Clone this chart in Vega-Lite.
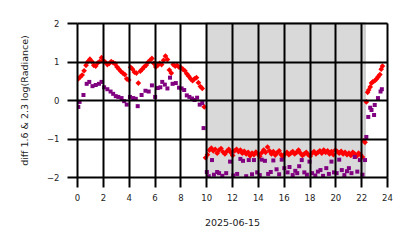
{
  "$schema": "https://vega.github.io/schema/vega-lite/v6.json",
  "width": 310,
  "height": 154,
  "autosize": {"type": "none"},
  "padding": {"left": 77, "top": 23, "right": 27, "bottom": 71},
  "background": "white",
  "config": {
    "view": {"stroke": "#bbbbbb", "strokeWidth": 1},
    "font": "DejaVu Sans",
    "axis": {
      "domain": false,
      "grid": true,
      "gridColor": "#000000",
      "gridWidth": 2,
      "gridOpacity": 1,
      "ticks": true,
      "tickColor": "#000000",
      "tickWidth": 2,
      "tickSize": 10,
      "tickOpacity": 1,
      "labelOverlap": false,
      "labelFlush": false,
      "labelFont": "DejaVu Sans",
      "labelFontSize": 8.5,
      "labelColor": "#222222",
      "titleFont": "DejaVu Sans",
      "titleFontWeight": "normal",
      "titleColor": "#222222",
      "zindex": 1
    }
  },
  "datasets": {
    "night": [{"start": 10.05, "end": 22.3}],
    "pts": [
      {"h": 0.10, "v": 0.55, "s": "red"},
      {"h": 0.25, "v": 0.60, "s": "red"},
      {"h": 0.40, "v": 0.65, "s": "red"},
      {"h": 0.55, "v": 0.76, "s": "red"},
      {"h": 0.70, "v": 0.90, "s": "red"},
      {"h": 0.85, "v": 1.00, "s": "red"},
      {"h": 1.00, "v": 1.06, "s": "red"},
      {"h": 1.15, "v": 1.00, "s": "red"},
      {"h": 1.30, "v": 0.90, "s": "red"},
      {"h": 1.45, "v": 0.88, "s": "red"},
      {"h": 1.60, "v": 0.96, "s": "red"},
      {"h": 1.75, "v": 1.00, "s": "red"},
      {"h": 1.90, "v": 1.10, "s": "red"},
      {"h": 2.05, "v": 1.02, "s": "red"},
      {"h": 2.20, "v": 0.98, "s": "red"},
      {"h": 2.35, "v": 0.92, "s": "red"},
      {"h": 2.50, "v": 0.95, "s": "red"},
      {"h": 2.65, "v": 1.00, "s": "red"},
      {"h": 2.80, "v": 0.97, "s": "red"},
      {"h": 2.95, "v": 0.94, "s": "red"},
      {"h": 3.10, "v": 0.86, "s": "red"},
      {"h": 3.25, "v": 0.80, "s": "red"},
      {"h": 3.40, "v": 0.74, "s": "red"},
      {"h": 3.55, "v": 0.70, "s": "red"},
      {"h": 3.70, "v": 0.66, "s": "red"},
      {"h": 3.85, "v": 0.55, "s": "red"},
      {"h": 4.00, "v": 0.52, "s": "red"},
      {"h": 4.15, "v": 0.85, "s": "red"},
      {"h": 4.30, "v": 0.80, "s": "red"},
      {"h": 4.45, "v": 0.72, "s": "red"},
      {"h": 4.60, "v": 0.70, "s": "red"},
      {"h": 4.75, "v": 0.44, "s": "red"},
      {"h": 4.90, "v": 0.75, "s": "red"},
      {"h": 5.05, "v": 0.80, "s": "red"},
      {"h": 5.20, "v": 0.86, "s": "red"},
      {"h": 5.35, "v": 0.90, "s": "red"},
      {"h": 5.50, "v": 0.98, "s": "red"},
      {"h": 5.65, "v": 1.03, "s": "red"},
      {"h": 5.80, "v": 1.08, "s": "red"},
      {"h": 5.95, "v": 0.95, "s": "red"},
      {"h": 6.10, "v": 0.86, "s": "red"},
      {"h": 6.25, "v": 0.90, "s": "red"},
      {"h": 6.40, "v": 0.95, "s": "red"},
      {"h": 6.55, "v": 0.92, "s": "red"},
      {"h": 6.70, "v": 1.03, "s": "red"},
      {"h": 6.85, "v": 1.14, "s": "red"},
      {"h": 7.00, "v": 1.05, "s": "red"},
      {"h": 7.15, "v": 0.78, "s": "red"},
      {"h": 7.30, "v": 0.70, "s": "red"},
      {"h": 7.45, "v": 0.92, "s": "red"},
      {"h": 7.60, "v": 0.88, "s": "red"},
      {"h": 7.75, "v": 0.90, "s": "red"},
      {"h": 7.90, "v": 0.85, "s": "red"},
      {"h": 8.05, "v": 0.84, "s": "red"},
      {"h": 8.20, "v": 0.80, "s": "red"},
      {"h": 8.35, "v": 0.76, "s": "red"},
      {"h": 8.50, "v": 0.68, "s": "red"},
      {"h": 8.65, "v": 0.62, "s": "red"},
      {"h": 8.80, "v": 0.55, "s": "red"},
      {"h": 8.95, "v": 0.50, "s": "red"},
      {"h": 9.10, "v": 0.55, "s": "red"},
      {"h": 9.25, "v": 0.58, "s": "red"},
      {"h": 9.40, "v": 0.45, "s": "red"},
      {"h": 9.55, "v": 0.35, "s": "red"},
      {"h": 9.70, "v": 0.30, "s": "red"},
      {"h": 9.85, "v": -0.18, "s": "red"},
      {"h": 9.95, "v": -1.50, "s": "red"},
      {"h": 10.10, "v": -1.42, "s": "red"},
      {"h": 10.25, "v": -1.30, "s": "red"},
      {"h": 10.40, "v": -1.25, "s": "red"},
      {"h": 10.55, "v": -1.32, "s": "red"},
      {"h": 10.70, "v": -1.28, "s": "red"},
      {"h": 10.85, "v": -1.38, "s": "red"},
      {"h": 11.00, "v": -1.30, "s": "red"},
      {"h": 11.15, "v": -1.26, "s": "red"},
      {"h": 11.30, "v": -1.35, "s": "red"},
      {"h": 11.45, "v": -1.40, "s": "red"},
      {"h": 11.60, "v": -1.33, "s": "red"},
      {"h": 11.75, "v": -1.28, "s": "red"},
      {"h": 11.90, "v": -1.36, "s": "red"},
      {"h": 12.05, "v": -1.44, "s": "red"},
      {"h": 12.20, "v": -1.32, "s": "red"},
      {"h": 12.35, "v": -1.28, "s": "red"},
      {"h": 12.50, "v": -1.34, "s": "red"},
      {"h": 12.65, "v": -1.30, "s": "red"},
      {"h": 12.80, "v": -1.38, "s": "red"},
      {"h": 12.95, "v": -1.33, "s": "red"},
      {"h": 13.10, "v": -1.40, "s": "red"},
      {"h": 13.25, "v": -1.36, "s": "red"},
      {"h": 13.40, "v": -1.45, "s": "red"},
      {"h": 13.55, "v": -1.38, "s": "red"},
      {"h": 13.70, "v": -1.42, "s": "red"},
      {"h": 13.85, "v": -1.35, "s": "red"},
      {"h": 14.00, "v": -1.40, "s": "red"},
      {"h": 14.15, "v": -1.46, "s": "red"},
      {"h": 14.30, "v": -1.37, "s": "red"},
      {"h": 14.45, "v": -1.30, "s": "red"},
      {"h": 14.60, "v": -1.36, "s": "red"},
      {"h": 14.75, "v": -1.22, "s": "red"},
      {"h": 14.90, "v": -1.32, "s": "red"},
      {"h": 15.05, "v": -1.40, "s": "red"},
      {"h": 15.20, "v": -1.34, "s": "red"},
      {"h": 15.35, "v": -1.43, "s": "red"},
      {"h": 15.50, "v": -1.37, "s": "red"},
      {"h": 15.65, "v": -1.32, "s": "red"},
      {"h": 15.80, "v": -1.42, "s": "red"},
      {"h": 15.95, "v": -1.48, "s": "red"},
      {"h": 16.10, "v": -1.40, "s": "red"},
      {"h": 16.25, "v": -1.36, "s": "red"},
      {"h": 16.40, "v": -1.42, "s": "red"},
      {"h": 16.55, "v": -1.38, "s": "red"},
      {"h": 16.70, "v": -1.34, "s": "red"},
      {"h": 16.85, "v": -1.40, "s": "red"},
      {"h": 17.00, "v": -1.36, "s": "red"},
      {"h": 17.15, "v": -1.30, "s": "red"},
      {"h": 17.30, "v": -1.38, "s": "red"},
      {"h": 17.45, "v": -1.44, "s": "red"},
      {"h": 17.60, "v": -1.40, "s": "red"},
      {"h": 17.75, "v": -1.36, "s": "red"},
      {"h": 17.90, "v": -1.42, "s": "red"},
      {"h": 18.05, "v": -1.46, "s": "red"},
      {"h": 18.20, "v": -1.38, "s": "red"},
      {"h": 18.35, "v": -1.34, "s": "red"},
      {"h": 18.50, "v": -1.40, "s": "red"},
      {"h": 18.65, "v": -1.36, "s": "red"},
      {"h": 18.80, "v": -1.32, "s": "red"},
      {"h": 18.95, "v": -1.38, "s": "red"},
      {"h": 19.10, "v": -1.30, "s": "red"},
      {"h": 19.25, "v": -1.36, "s": "red"},
      {"h": 19.40, "v": -1.32, "s": "red"},
      {"h": 19.55, "v": -1.40, "s": "red"},
      {"h": 19.70, "v": -1.34, "s": "red"},
      {"h": 19.85, "v": -1.42, "s": "red"},
      {"h": 20.00, "v": -1.30, "s": "red"},
      {"h": 20.15, "v": -1.34, "s": "red"},
      {"h": 20.30, "v": -1.38, "s": "red"},
      {"h": 20.45, "v": -1.33, "s": "red"},
      {"h": 20.60, "v": -1.40, "s": "red"},
      {"h": 20.75, "v": -1.36, "s": "red"},
      {"h": 20.90, "v": -1.42, "s": "red"},
      {"h": 21.05, "v": -1.38, "s": "red"},
      {"h": 21.20, "v": -1.44, "s": "red"},
      {"h": 21.35, "v": -1.36, "s": "red"},
      {"h": 21.50, "v": -1.40, "s": "red"},
      {"h": 21.65, "v": -1.46, "s": "red"},
      {"h": 21.80, "v": -1.38, "s": "red"},
      {"h": 21.95, "v": -1.42, "s": "red"},
      {"h": 22.10, "v": -1.48, "s": "red"},
      {"h": 22.20, "v": -1.06, "s": "red"},
      {"h": 22.30, "v": -1.10, "s": "red"},
      {"h": 22.40, "v": -0.05, "s": "red"},
      {"h": 22.50, "v": 0.20, "s": "red"},
      {"h": 22.58, "v": 0.26, "s": "red"},
      {"h": 22.70, "v": 0.34, "s": "red"},
      {"h": 22.80, "v": 0.44, "s": "red"},
      {"h": 22.90, "v": 0.47, "s": "red"},
      {"h": 23.05, "v": 0.50, "s": "red"},
      {"h": 23.20, "v": 0.55, "s": "red"},
      {"h": 23.30, "v": 0.60, "s": "red"},
      {"h": 23.45, "v": 0.66, "s": "red"},
      {"h": 23.55, "v": 0.80, "s": "red"},
      {"h": 23.65, "v": 0.88, "s": "red"},
      {"h": 0.10, "v": -0.18, "s": "purple"},
      {"h": 0.20, "v": -0.05, "s": "purple"},
      {"h": 0.50, "v": 0.13, "s": "purple"},
      {"h": 0.75, "v": 0.42, "s": "purple"},
      {"h": 0.95, "v": 0.47, "s": "purple"},
      {"h": 1.20, "v": 0.36, "s": "purple"},
      {"h": 1.45, "v": 0.39, "s": "purple"},
      {"h": 1.70, "v": 0.42, "s": "purple"},
      {"h": 1.90, "v": 0.47, "s": "purple"},
      {"h": 2.10, "v": 0.33, "s": "purple"},
      {"h": 2.35, "v": 0.28, "s": "purple"},
      {"h": 2.60, "v": 0.22, "s": "purple"},
      {"h": 2.80, "v": 0.16, "s": "purple"},
      {"h": 3.00, "v": 0.10, "s": "purple"},
      {"h": 3.20, "v": 0.08, "s": "purple"},
      {"h": 3.45, "v": 0.05, "s": "purple"},
      {"h": 3.65, "v": -0.03, "s": "purple"},
      {"h": 3.85, "v": -0.12, "s": "purple"},
      {"h": 4.10, "v": 0.08, "s": "purple"},
      {"h": 4.35, "v": 0.05, "s": "purple"},
      {"h": 4.55, "v": 0.03, "s": "purple"},
      {"h": 4.70, "v": -0.16, "s": "purple"},
      {"h": 5.00, "v": 0.13, "s": "purple"},
      {"h": 5.30, "v": 0.24, "s": "purple"},
      {"h": 5.55, "v": 0.22, "s": "purple"},
      {"h": 5.80, "v": 0.38, "s": "purple"},
      {"h": 6.05, "v": 0.08, "s": "purple"},
      {"h": 6.25, "v": 0.31, "s": "purple"},
      {"h": 6.45, "v": 0.33, "s": "purple"},
      {"h": 6.60, "v": 0.47, "s": "purple"},
      {"h": 6.80, "v": 0.40, "s": "purple"},
      {"h": 7.00, "v": 0.30, "s": "purple"},
      {"h": 7.20, "v": 0.58, "s": "purple"},
      {"h": 7.40, "v": 0.42, "s": "purple"},
      {"h": 7.65, "v": 0.44, "s": "purple"},
      {"h": 7.90, "v": 0.32, "s": "purple"},
      {"h": 8.10, "v": 0.30, "s": "purple"},
      {"h": 8.30, "v": 0.26, "s": "purple"},
      {"h": 8.50, "v": 0.12, "s": "purple"},
      {"h": 8.70, "v": 0.08, "s": "purple"},
      {"h": 8.90, "v": 0.04, "s": "purple"},
      {"h": 9.10, "v": 0.00, "s": "purple"},
      {"h": 9.30, "v": 0.06, "s": "purple"},
      {"h": 9.50, "v": -0.12, "s": "purple"},
      {"h": 9.70, "v": -0.08, "s": "purple"},
      {"h": 9.80, "v": -0.73, "s": "purple"},
      {"h": 10.05, "v": -1.87, "s": "purple"},
      {"h": 10.20, "v": -1.98, "s": "purple"},
      {"h": 10.45, "v": -1.56, "s": "purple"},
      {"h": 10.60, "v": -1.94, "s": "purple"},
      {"h": 10.85, "v": -1.87, "s": "purple"},
      {"h": 11.00, "v": -1.90, "s": "purple"},
      {"h": 11.25, "v": -1.97, "s": "purple"},
      {"h": 11.55, "v": -1.90, "s": "purple"},
      {"h": 11.85, "v": -1.60, "s": "purple"},
      {"h": 12.10, "v": -1.96, "s": "purple"},
      {"h": 12.40, "v": -1.92, "s": "purple"},
      {"h": 12.65, "v": -1.53, "s": "purple"},
      {"h": 12.85, "v": -1.58, "s": "purple"},
      {"h": 13.10, "v": -1.98, "s": "purple"},
      {"h": 13.30, "v": -1.56, "s": "purple"},
      {"h": 13.55, "v": -1.93, "s": "purple"},
      {"h": 13.70, "v": -1.56, "s": "purple"},
      {"h": 13.95, "v": -1.88, "s": "purple"},
      {"h": 14.15, "v": -1.95, "s": "purple"},
      {"h": 14.30, "v": -1.55, "s": "purple"},
      {"h": 14.55, "v": -1.58, "s": "purple"},
      {"h": 14.80, "v": -1.92, "s": "purple"},
      {"h": 15.00, "v": -1.87, "s": "purple"},
      {"h": 15.20, "v": -1.57, "s": "purple"},
      {"h": 15.45, "v": -1.80, "s": "purple"},
      {"h": 15.65, "v": -1.93, "s": "purple"},
      {"h": 15.85, "v": -1.55, "s": "purple"},
      {"h": 16.05, "v": -1.77, "s": "purple"},
      {"h": 16.30, "v": -1.88, "s": "purple"},
      {"h": 16.45, "v": -1.74, "s": "purple"},
      {"h": 16.70, "v": -1.95, "s": "purple"},
      {"h": 16.90, "v": -1.84, "s": "purple"},
      {"h": 17.05, "v": -1.90, "s": "purple"},
      {"h": 17.20, "v": -1.72, "s": "purple"},
      {"h": 17.40, "v": -1.56, "s": "purple"},
      {"h": 17.60, "v": -1.88, "s": "purple"},
      {"h": 17.80, "v": -1.94, "s": "purple"},
      {"h": 18.00, "v": -1.60, "s": "purple"},
      {"h": 18.20, "v": -1.90, "s": "purple"},
      {"h": 18.45, "v": -1.96, "s": "purple"},
      {"h": 18.65, "v": -1.86, "s": "purple"},
      {"h": 18.85, "v": -1.82, "s": "purple"},
      {"h": 19.05, "v": -1.97, "s": "purple"},
      {"h": 19.30, "v": -1.77, "s": "purple"},
      {"h": 19.50, "v": -1.92, "s": "purple"},
      {"h": 19.70, "v": -1.60, "s": "purple"},
      {"h": 19.90, "v": -1.88, "s": "purple"},
      {"h": 20.10, "v": -1.90, "s": "purple"},
      {"h": 20.30, "v": -1.55, "s": "purple"},
      {"h": 20.50, "v": -1.82, "s": "purple"},
      {"h": 20.70, "v": -1.95, "s": "purple"},
      {"h": 20.90, "v": -1.85, "s": "purple"},
      {"h": 21.05, "v": -1.77, "s": "purple"},
      {"h": 21.25, "v": -1.90, "s": "purple"},
      {"h": 21.50, "v": -1.48, "s": "purple"},
      {"h": 21.70, "v": -1.86, "s": "purple"},
      {"h": 21.90, "v": -1.56, "s": "purple"},
      {"h": 22.10, "v": -1.94, "s": "purple"},
      {"h": 22.30, "v": -1.56, "s": "purple"},
      {"h": 22.40, "v": -0.96, "s": "purple"},
      {"h": 22.55, "v": -0.44, "s": "purple"},
      {"h": 22.70, "v": -0.20, "s": "purple"},
      {"h": 22.80, "v": -0.26, "s": "purple"},
      {"h": 23.00, "v": -0.39, "s": "purple"},
      {"h": 23.05, "v": -0.13, "s": "purple"},
      {"h": 23.30, "v": 0.05, "s": "purple"},
      {"h": 23.50, "v": 0.22, "s": "purple"},
      {"h": 23.60, "v": 0.28, "s": "purple"}
    ]
  },
  "layer": [
    {
      "data": {"name": "night"},
      "mark": {"type": "rect", "fill": "#d9d9d9", "stroke": "#c8c8c8", "strokeWidth": 1.5},
      "encoding": {
        "x": {
          "field": "start", "type": "quantitative",
          "scale": {"domain": [0, 24], "nice": false},
          "axis": {
            "values": [0, 2, 4, 6, 8, 10, 12, 14, 16, 18, 20, 22, 24],
            "tickCount": 30,
            "format": "d",
            "zindex": 1,
            "labelPadding": 6,
            "title": "2025-06-15",
            "titleFontSize": 9.5,
            "titleY": 45,
            "titleBaseline": "middle"
          }
        },
        "x2": {"field": "end"},
        "y": {"datum": -2, "type": "quantitative",
          "scale": {"domain": [-2, 2], "nice": false},
          "axis": {
            "values": [-2, -1, 0, 1, 2],
            "tickCount": 10,
            "format": "d",
            "zindex": 1,
            "labelPadding": 8,
            "title": "diff 1.6 & 2.3  log(Radiance)",
            "titleFontSize": 9.5,
            "titleX": -53,
            "titleY": 77,
            "titleAlign": "center",
            "titleBaseline": "middle"
          }
        },
        "y2": {"datum": 2}
      }
    },
    {
      "data": {"name": "pts"},
      "mark": {"type": "point", "filled": true, "opacity": 1, "strokeWidth": 0, "clip": true},
      "encoding": {
        "x": {"field": "h", "type": "quantitative",
          "axis": {
            "values": [0, 2, 4, 6, 8, 10, 12, 14, 16, 18, 20, 22, 24],
            "tickCount": 30,
            "format": "d",
            "zindex": 1,
            "labelPadding": 6,
            "title": "2025-06-15",
            "titleFontSize": 9.5,
            "titleY": 45,
            "titleBaseline": "middle"
          }
        },
        "y": {"field": "v", "type": "quantitative",
          "axis": {
            "values": [-2, -1, 0, 1, 2],
            "tickCount": 10,
            "format": "d",
            "zindex": 1,
            "labelPadding": 8,
            "title": "diff 1.6 & 2.3  log(Radiance)",
            "titleFontSize": 9.5,
            "titleX": -53,
            "titleY": 77,
            "titleAlign": "center",
            "titleBaseline": "middle"
          }
        },
        "color": {"field": "s", "type": "nominal",
          "scale": {"domain": ["red", "purple"], "range": ["#ff0000", "#800080"]},
          "legend": null},
        "shape": {"field": "s", "type": "nominal",
          "scale": {"domain": ["red", "purple"], "range": ["diamond", "square"]},
          "legend": null},
        "size": {"field": "s", "type": "nominal",
          "scale": {"domain": ["red", "purple"], "range": [32, 16]},
          "legend": null}
      }
    }
  ]
}
